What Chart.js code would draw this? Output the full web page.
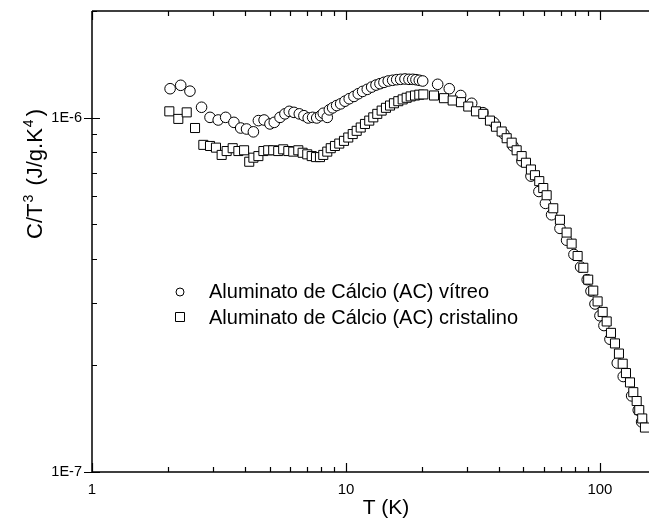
<!DOCTYPE html>
<html><head><meta charset="utf-8">
<script src="https://cdn.jsdelivr.net/npm/chart.js@4/dist/chart.umd.min.js"></script>
<style>html,body{margin:0;padding:0;background:#fff}#wrap{width:649px;height:518px;position:relative}</style>
</head><body><div id="wrap"><canvas id="c"></canvas></div>
<script>
// Series: Aluminato de Cálcio (AC) vítreo (circles)
const vitreoT = [2.03,2.235,2.43,2.70,2.915,3.14,3.36,3.62,3.85,4.06,4.32,4.52,4.76,5.02,5.22,5.50,5.75,5.98,6.24,6.55,6.83,7.10,7.39,7.67,7.95,8.14,8.44,8.60,8.86,9.19,9.53,9.91,10.30,10.75,11.18,11.63,12.13,12.62,13.13,13.61,14.11,14.67,15.27,15.84,16.42,17.07,17.70,18.31,18.86,19.44,20.05,22.96,25.51,28.29,31.26,34.62,38.25,41.88,45.45,49.3,53.5,57.5,61.0,64.5,69.6,73.9,79.0,83.9,89.1,92.2,95.6,100,103.7,109.5,117.0,123.5,133.3,141.5,145.9];
const vitreoC = [1.207e-6,1.234e-6,1.188e-6,1.070e-6,1.002e-6,0.985e-6,1.002e-6,0.970e-6,0.935e-6,0.929e-6,0.912e-6,0.981e-6,0.985e-6,0.960e-6,0.970e-6,1.002e-6,1.025e-6,1.042e-6,1.035e-6,1.025e-6,1.013e-6,0.998e-6,1.002e-6,0.998e-6,1.013e-6,1.029e-6,1.002e-6,1.052e-6,1.066e-6,1.082e-6,1.094e-6,1.113e-6,1.131e-6,1.148e-6,1.168e-6,1.186e-6,1.202e-6,1.220e-6,1.236e-6,1.247e-6,1.258e-6,1.269e-6,1.275e-6,1.280e-6,1.283e-6,1.286e-6,1.283e-6,1.283e-6,1.280e-6,1.275e-6,1.269e-6,1.242e-6,1.207e-6,1.155e-6,1.098e-6,1.033e-6,0.968e-6,0.900e-6,0.832e-6,0.754e-6,0.684e-6,0.619e-6,0.573e-6,0.532e-6,0.487e-6,0.451e-6,0.411e-6,0.379e-6,0.349e-6,0.324e-6,0.298e-6,0.276e-6,0.259e-6,0.237e-6,0.203e-6,0.186e-6,0.164e-6,0.1495e-6,0.1385e-6];
// Series: Aluminato de Cálcio (AC) cristalino (squares)
const cristT = [2.016,2.187,2.36,2.545,2.744,2.915,3.077,3.24,3.39,3.58,3.77,3.97,4.16,4.32,4.52,4.73,4.94,5.17,5.41,5.66,5.93,6.20,6.49,6.75,7.04,7.33,7.62,7.90,8.14,8.44,8.71,9.05,9.41,9.82,10.21,10.63,11.02,11.43,11.88,12.35,12.81,13.28,13.82,14.37,14.91,15.45,16.07,16.72,17.34,17.98,18.70,19.44,20.16,22.21,24.31,26.31,28.36,30.30,32.50,34.72,36.89,38.96,41.02,42.93,44.92,46.99,49.17,51.13,53.49,55.47,57.68,59.81,61.68,65.48,69.57,73.93,77.36,81.68,86.0,89.9,94.1,97.9,102.5,106.3,110.5,114.6,118.8,122.9,126.6,131.3,135.3,139.5,142.8,146.7,150.4];
const cristC = [1.042e-6,0.992e-6,1.035e-6,0.935e-6,0.838e-6,0.832e-6,0.823e-6,0.785e-6,0.805e-6,0.820e-6,0.805e-6,0.809e-6,0.751e-6,0.771e-6,0.779e-6,0.805e-6,0.809e-6,0.809e-6,0.805e-6,0.814e-6,0.805e-6,0.802e-6,0.809e-6,0.796e-6,0.788e-6,0.779e-6,0.774e-6,0.774e-6,0.785e-6,0.802e-6,0.820e-6,0.832e-6,0.845e-6,0.860e-6,0.879e-6,0.899e-6,0.918e-6,0.938e-6,0.960e-6,0.981e-6,1.002e-6,1.025e-6,1.047e-6,1.066e-6,1.082e-6,1.098e-6,1.113e-6,1.126e-6,1.138e-6,1.148e-6,1.155e-6,1.161e-6,1.163e-6,1.155e-6,1.135e-6,1.118e-6,1.106e-6,1.075e-6,1.042e-6,1.025e-6,0.981e-6,0.943e-6,0.914e-6,0.875e-6,0.850e-6,0.809e-6,0.779e-6,0.746e-6,0.714e-6,0.688e-6,0.662e-6,0.633e-6,0.604e-6,0.555e-6,0.515e-6,0.474e-6,0.441e-6,0.407e-6,0.377e-6,0.349e-6,0.325e-6,0.303e-6,0.283e-6,0.266e-6,0.247e-6,0.2306e-6,0.2159e-6,0.2021e-6,0.1902e-6,0.1790e-6,0.1680e-6,0.1586e-6,0.1495e-6,0.1416e-6,0.1335e-6];
const seriesLabels = ['Aluminato de Cálcio (AC) vítreo','Aluminato de Cálcio (AC) cristalino'];
const xTickValues = [1,10,100];
const xTickLabels = ['1','10','100'];
const yTickValues = [1e-7,1e-6];
const yTickLabels = ['1E-7','1E-6'];
const xTitle = 'T (K)';

const FONT = '"Liberation Sans", Arial, sans-serif';

const axesPlugin = {
  id: 'axesPlugin',
  afterDraw(chart) {
    const ctx = chart.ctx, xs = chart.scales.x, ys = chart.scales.y, a = chart.chartArea;
    ctx.save();
    ctx.strokeStyle = '#000'; ctx.lineWidth = 1.5; ctx.lineCap = 'butt';
    ctx.beginPath();
    ctx.moveTo(a.left, a.top); ctx.lineTo(a.left, a.bottom);
    ctx.moveTo(a.left, a.bottom); ctx.lineTo(a.right, a.bottom);
    ctx.moveTo(a.left, a.top); ctx.lineTo(a.right, a.top);
    ctx.stroke();
    // x ticks (inward, bottom & top)
    ctx.lineWidth = 1.2;
    ctx.beginPath();
    for (let d = 1; d <= 100; d *= 10) {
      for (let m = 1; m <= 9; m++) {
        const v = m * d; if (v > xs.max) continue;
        const px = Math.round(xs.getPixelForValue(v)) + 0.5;
        const L = m === 1 ? 9 : 5;
        ctx.moveTo(px, a.bottom); ctx.lineTo(px, a.bottom - L);
        ctx.moveTo(px, a.top); ctx.lineTo(px, a.top + L);
      }
    }
    // y ticks
    for (let d = 1e-7; d <= 1e-6 * 1.01; d *= 10) {
      for (let m = 1; m <= 9; m++) {
        const v = m * d; if (v > ys.max * 1.001) continue;
        const py = Math.round(ys.getPixelForValue(v)) + 0.5;
        if (m === 1) { ctx.moveTo(a.left - 8, py); ctx.lineTo(a.left + 8, py); }
        else { ctx.moveTo(a.left, py); ctx.lineTo(a.left + 5, py); }
      }
    }
    ctx.stroke();
    // tick labels
    ctx.fillStyle = '#000';
    ctx.font = '15px ' + FONT;
    ctx.textAlign = 'center'; ctx.textBaseline = 'alphabetic';
    xTickValues.forEach((v, i) => ctx.fillText(xTickLabels[i], xs.getPixelForValue(v), a.bottom + 22));
    ctx.font = '14.5px ' + FONT;
    ctx.textAlign = 'right'; ctx.textBaseline = 'middle';
    yTickValues.forEach((v, i) => ctx.fillText(yTickLabels[i], a.left - 10, ys.getPixelForValue(v)));
    // x title
    ctx.font = '21px ' + FONT;
    ctx.textAlign = 'center'; ctx.textBaseline = 'alphabetic';
    ctx.fillText(xTitle, 386, 514);
    // y title with superscripts
    const parts = [['C/T', 0], ['3', 1], [' (J/g.K', 0], ['4', 1], [')', 0]];
    const big = '22px ' + FONT, small = '14px ' + FONT;
    const gapBefore = 1, gapAfter = 3;
    let total = 0;
    parts.forEach(p => { ctx.font = p[1] ? small : big; total += ctx.measureText(p[0]).width + (p[1] ? gapBefore + gapAfter : 0); });
    ctx.translate(42, 174); ctx.rotate(-Math.PI / 2);
    ctx.textAlign = 'left'; ctx.textBaseline = 'alphabetic';
    let x = -total / 2;
    parts.forEach(p => {
      ctx.font = p[1] ? small : big;
      if (p[1]) x += gapBefore;
      ctx.fillText(p[0], x, p[1] ? -9 : 0);
      x += ctx.measureText(p[0]).width + (p[1] ? gapAfter : 0);
    });
    ctx.restore();
    // legend
    ctx.save();
    ctx.strokeStyle = '#000'; ctx.fillStyle = '#fff'; ctx.lineWidth = 1;
    ctx.beginPath(); ctx.arc(180, 292, 4, 0, Math.PI * 2); ctx.fill(); ctx.stroke();
    ctx.beginPath(); ctx.rect(175.5, 312.5, 9, 9); ctx.fill(); ctx.stroke();
    ctx.fillStyle = '#000';
    ctx.font = '20px ' + FONT; ctx.textAlign = 'left'; ctx.textBaseline = 'alphabetic';
    ctx.fillText(seriesLabels[0], 209, 298);
    ctx.fillText(seriesLabels[1], 209, 324);
    ctx.restore();
  }
};

new Chart(document.getElementById('c'), {
  type: 'scatter',
  data: {
    datasets: [
      { label: seriesLabels[0], data: vitreoT.map((t, i) => ({ x: t, y: vitreoC[i] })),
        pointStyle: 'circle', pointRadius: 5.3, pointHoverRadius: 5.3, borderColor: '#000', backgroundColor: '#fff', borderWidth: 1, order: 1, clip: false },
      { label: seriesLabels[1], data: cristT.map((t, i) => ({ x: t, y: cristC[i] })),
        pointStyle: 'rect', pointRadius: 6.4, pointHoverRadius: 6.4, borderColor: '#000', backgroundColor: '#fff', borderWidth: 1, order: 0, clip: false }
    ]
  },
  options: {
    responsive: true, maintainAspectRatio: false, animation: false,
    layout: { autoPadding: false, padding: { left: 92, top: 11, right: 0, bottom: 46 } },
    scales: {
      x: { type: 'logarithmic', min: 1, max: 156, display: false },
      y: { type: 'logarithmic', min: 1e-7, max: 2e-6, display: false }
    },
    plugins: { legend: { display: false }, tooltip: { enabled: false } },
    events: []
  },
  plugins: [axesPlugin]
});
</script></body></html>
